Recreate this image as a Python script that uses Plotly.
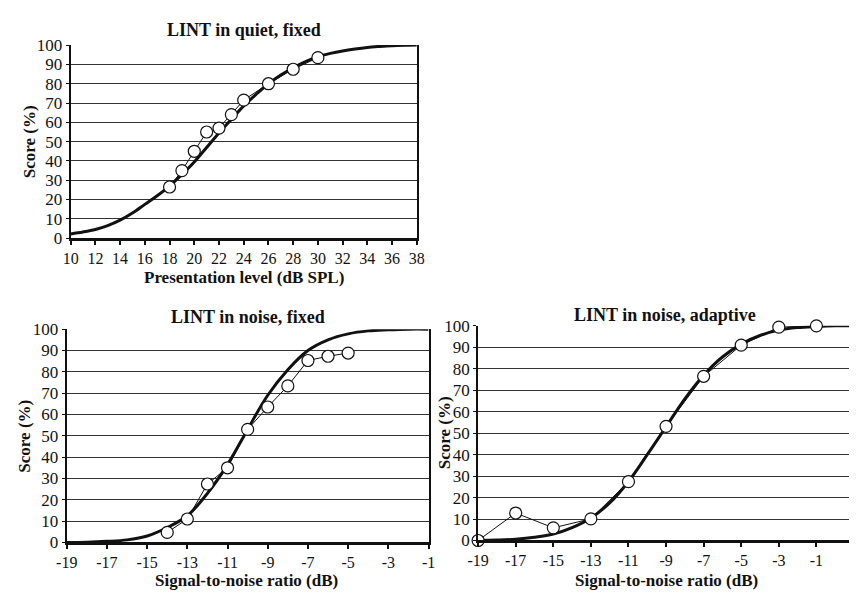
import plotly.graph_objects as go

# ---------------- data ----------------
# Panel 1: LINT in quiet, fixed
quiet_x = [18, 19, 20, 21, 22, 23, 24, 26, 28, 30]
quiet_y = [26.5, 35, 45, 55, 57, 64, 71.5, 80, 87.5, 93.5]
quiet_fit_x = [10, 11, 12, 13, 14, 15, 16, 17, 18, 19, 20, 21, 22, 23, 24, 25, 26,
               27, 28, 29, 30, 31, 32, 33, 34, 35, 36, 37, 38]
quiet_fit_y = [2.2, 3.2, 4.5, 6.5, 9.3, 13, 17.5, 22, 27, 33, 39.5, 47, 54.5, 61.5,
               68.5, 74.5, 80, 84.5, 88.3, 91.5, 94, 95.7, 97, 98, 98.8, 99.3, 99.7,
               99.9, 100]
quiet_ticks = [10, 12, 14, 16, 18, 20, 22, 24, 26, 28, 30, 32, 34, 36, 38]

# Panel 2: LINT in noise, fixed
nfix_x = [-14, -13, -12, -11, -10, -9, -8, -7, -6, -5]
nfix_y = [4.7, 11, 27.4, 35, 53, 63.5, 73.4, 85.3, 87.3, 88.8]
nfix_fit_x = [-19, -18, -17, -16, -15, -14, -13, -12, -11, -10, -9, -8, -7, -6, -5,
              -4, -3, -2, -1]
nfix_fit_y = [0, 0.1, 0.5, 1.2, 3, 7, 12.5, 23, 36.5, 53, 69, 81, 90, 95, 97.8,
              99.2, 99.7, 100, 100]

# Panel 3: LINT in noise, adaptive
nad_x = [-19, -17, -15, -13, -11, -9, -7, -5, -3, -1]
nad_y = [0, 12.8, 5.9, 10.1, 27.4, 53.2, 76.5, 91, 99.4, 100]
nad_fit_x = [-19, -18, -17, -16, -15, -14, -13, -12, -11, -10, -9, -8, -7, -6, -5,
             -4, -3, -2, -1, 0, 1]
nad_fit_y = [0, 0.2, 0.6, 1.5, 3, 6, 10.5, 17.5, 27.5, 40, 53, 66, 77, 85.5, 91.5,
             95.5, 98, 99.2, 99.7, 100, 100]

snr_ticks = [-19, -17, -15, -13, -11, -9, -7, -5, -3, -1]
score_ticks = [0, 10, 20, 30, 40, 50, 60, 70, 80, 90, 100]

titles = ["LINT in quiet, fixed", "LINT in noise, fixed", "LINT in noise, adaptive"]
xtitles = ["Presentation level (dB SPL)", "Signal-to-noise ratio (dB)",
           "Signal-to-noise ratio (dB)"]
ytitle = "Score (%)"

# ---------------- figure ----------------
W, H = 857, 596
SERIF = "Liberation Serif, Times New Roman, serif"

fig = go.Figure()

panels = [
    (quiet_fit_x, quiet_fit_y, quiet_x, quiet_y, ""),
    (nfix_fit_x, nfix_fit_y, nfix_x, nfix_y, "2"),
    (nad_fit_x, nad_fit_y, nad_x, nad_y, "3"),
]
for fx, fy, dx, dy, s in panels:
    fig.add_trace(go.Scatter(x=fx, y=fy, mode="lines",
                             line=dict(color="#111111", width=3, shape="spline"),
                             xaxis="x" + s, yaxis="y" + s, showlegend=False,
                             hoverinfo="skip"))
    fig.add_trace(go.Scatter(x=dx, y=dy, mode="lines+markers",
                             line=dict(color="#111111", width=1),
                             marker=dict(size=12, color="white",
                                         line=dict(color="#111111", width=1.2)),
                             cliponaxis=False,
                             xaxis="x" + s, yaxis="y" + s, showlegend=False))

def px_x(p):
    return p / W

def px_y(p):
    return 1 - p / H

# plot-area geometry in pixels (left, right, top, bottom)
geo = [
    (61, 415, 37.3, 236.7),
    (57, 427, 330.7, 551),
    (477.7, 857, 327.3, 549),
]
xranges = [[10, 38], [-19, -1], [-19, -19 + (857 - 477.7) / 19.22]]
xtickvals = [quiet_ticks, snr_ticks, snr_ticks]

yfont = dict(family=SERIF, size=17, color="#111111")
xfont = dict(family=SERIF, size=16, color="#111111")
layout = dict(width=W, height=H, margin=dict(l=0, r=0, t=0, b=0),
              paper_bgcolor="white", plot_bgcolor="white", showlegend=False)

for i, ((l, r, t, b), xr, tv) in enumerate(zip(geo, xranges, xtickvals)):
    s = "" if i == 0 else str(i + 1)
    mirror = i < 2
    layout["xaxis" + s] = dict(
        domain=[px_x(l), min(1.0, px_x(r))], range=xr, anchor="y" + s,
        tickmode="array", tickvals=tv, ticktext=[str(v) for v in tv],
        ticks="outside", ticklen=4, tickwidth=1.5, tickcolor="#111111",
        showline=True, linecolor="#111111", linewidth=2.5,
        showgrid=False, zeroline=False, tickfont=xfont)
    layout["yaxis" + s] = dict(
        domain=[px_y(b), px_y(t)], range=[0, 100], anchor="x" + s,
        tickmode="array", tickvals=score_ticks,
        ticktext=[str(v) for v in score_ticks],
        ticks="outside", ticklen=3, tickwidth=1, tickcolor="#111111",
        showline=True, linecolor="#111111", linewidth=2, mirror=mirror,
        showgrid=True, gridcolor="#333333", gridwidth=1, zeroline=False,
        tickfont=yfont)

fig.update_layout(**layout)

title_font = dict(family=SERIF, size=18, color="#111111")
label_font = dict(family=SERIF, size=17, color="#111111")
annotations = []
title_pos = [(238, 22), (242, 318.5), (669, 316.5)]
xt_pos = [(238, 277), (241, 590), (670, 590)]
yt_pos = [(19, 137), (14, 441), (443, 438)]
for i in range(3):
    annotations.append(dict(text="<b>%s</b>" % titles[i], x=px_x(title_pos[i][0]),
                            y=px_y(title_pos[i][1]), xref="paper", yref="paper",
                            showarrow=False, font=title_font,
                            xanchor="center", yanchor="middle"))
    annotations.append(dict(text="<b>%s</b>" % xtitles[i], x=px_x(xt_pos[i][0]),
                            y=px_y(xt_pos[i][1]), xref="paper", yref="paper",
                            showarrow=False, font=label_font,
                            xanchor="center", yanchor="middle"))
    annotations.append(dict(text="<b>%s</b>" % ytitle, x=px_x(yt_pos[i][0]),
                            y=px_y(yt_pos[i][1]), xref="paper", yref="paper",
                            showarrow=False, font=label_font, textangle=-90,
                            xanchor="center", yanchor="middle"))
fig.update_layout(annotations=annotations)

fig.write_html("out.html")
